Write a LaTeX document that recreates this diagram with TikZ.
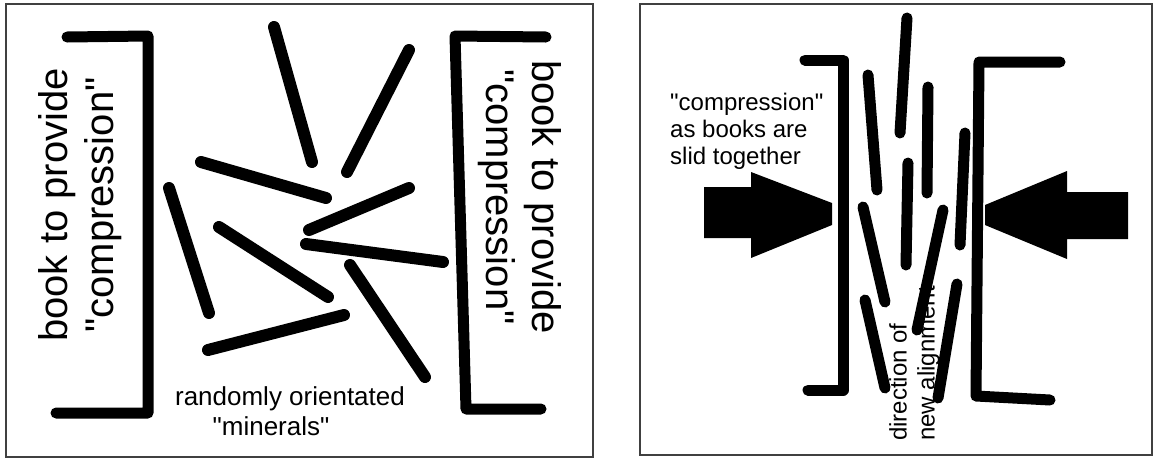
\documentclass[tikz,border=0pt]{standalone}
\usepackage{fontspec}
\setmainfont{Liberation Sans}[Ligatures=TeXOff]
\usepackage{tikz}

\begin{document}
\begin{tikzpicture}[x=1pt,y=-1pt,
  mineral/.style={line width=12pt,line cap=round},
  bracket/.style={line width=11pt,line cap=round,line join=round},
  frame/.style={line width=1.6pt,draw=black!75},
  txt/.style={inner sep=0pt,align=center}]
\useasboundingbox (0,0) rectangle (1159,459);
\fill[white] (0,0) rectangle (1159,459);
\draw[frame] (6,4) rectangle (593,457);
\draw[frame] (640,4) rectangle (1152,455);
\draw[bracket] (67,37) -- (148,36) -- (148,413) -- (56,413);
\draw[bracket] (546,37) -- (455,36) -- (466,409) -- (541,409);
\foreach \a/\b in {{(274,27)}/{(312,162)},{(409,50)}/{(347,172)},{(201,162)}/{(326,198)},
  {(169,188)}/{(209,313)},{(409,188)}/{(309,230)},{(219,227)}/{(328,297)},
  {(306,244)}/{(443,262)},{(350,265)}/{(425,377)},{(208,350)}/{(344,315)}}
  \draw[mineral] \a -- \b;
\node[txt,rotate=90,font=\fontsize{40}{46}\selectfont] (leftbook) at (80,205) {book to provide\\"compression"};
\node[txt,rotate=-90,font=\fontsize{40}{46}\selectfont] (rightbook) at (520,197) {book to provide\\"compression"};
\node[txt,anchor=north,font=\fontsize{26}{30}\selectfont] (random) at (290,386) {randomly orientated\\\hspace*{-38pt}"minerals"};
\draw[bracket] (805,60) -- (843,60) -- (843,390) -- (808,390);
\draw[bracket] (1060,62) -- (979,62) -- (976,396) -- (1050,400);
\foreach \a/\b in {{(907,18)}/{(900,133)},{(868,75)}/{(877,190)},{(928,87)}/{(927,193)},
  {(965,133)}/{(960,245)},{(908,163)}/{(906,265)},{(863,207)}/{(885,302)},
  {(943,210)}/{(917,330)},{(865,300)}/{(885,388)},{(957,284)}/{(938,398)}}
  \draw[mineral,line width=11pt] \a -- \b;
\fill (704,187) -- (751,187) -- (751,172) -- (832,203) -- (832,225) -- (751,258) -- (751,238) -- (704,238) -- cycle;
\fill (1128,192) -- (1067,192) -- (1067,171) -- (985,205) -- (985,225) -- (1067,259) -- (1067,239) -- (1128,239) -- cycle;
\node[txt,align=left,anchor=north west,font=\fontsize{24}{27}\selectfont] (squeeze) at (670,93) {"compression"\\as books are\\slid together};
\node[txt,align=left,rotate=90,anchor=north west,font=\fontsize{24}{28}\selectfont] (trend) at (889,441) {direction of\\new alignment};
\end{tikzpicture}
\end{document}
